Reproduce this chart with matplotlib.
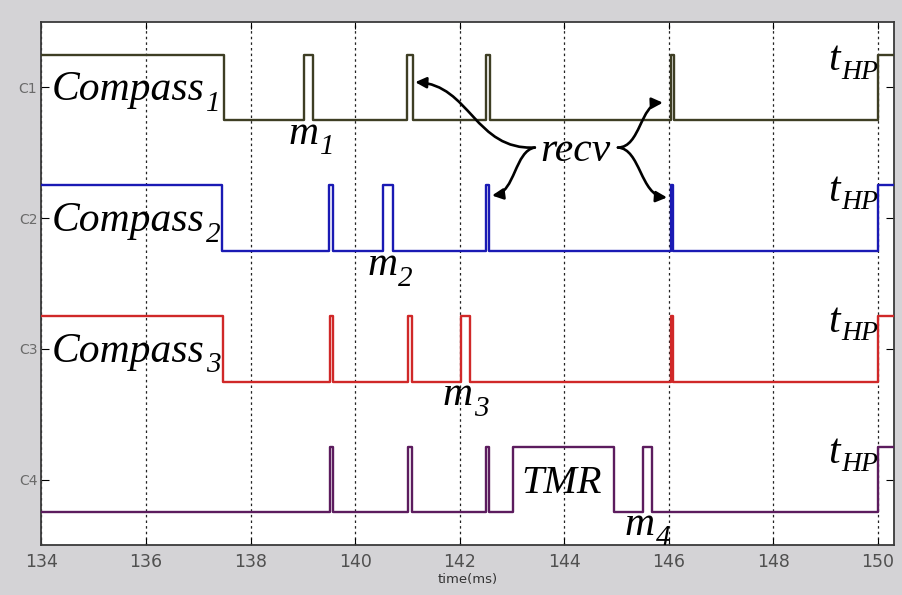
import numpy as np
import matplotlib
matplotlib.use('Agg')
import matplotlib.pyplot as plt
from matplotlib.path import Path
from matplotlib.patches import FancyArrowPatch

# channel names (top to bottom) and the time (ms) of every edge
channels = ['C1', 'C2', 'C3', 'C4']
c1_edges = [137.5, 139.03, 139.2, 141.0, 141.1, 142.5, 142.58, 146.04, 146.1, 150.0]
c2_edges = [137.45, 139.51, 139.58, 140.53, 140.73, 142.5, 142.57, 146.04, 146.08, 150.0]
c3_edges = [137.47, 139.52, 139.57, 141.01, 141.09, 142.02, 142.19, 146.04, 146.09, 150.0]
c4_edges = [139.52, 139.58, 141.01, 141.09, 142.5, 142.57, 143.02, 144.95, 145.5, 145.69, 150.0]
start_high = [True, True, True, False]
colors = ['#3e3e24', '#1a1ab4', '#d02828', '#5c1c5e']
t_start, t_end = 134, 150.31
xticks = np.arange(134, 151, 2)


def square_wave(edges, high, base):
    t = [t_start] + edges + [t_end]
    lev = []
    h = high
    for i in range(len(t) - 1):
        lev.append(base + (0.25 if h else -0.25))
        h = not h
    lev.append(lev[-1])
    return t, lev


fig = plt.figure(figsize=(9.02, 5.95), dpi=100, facecolor='#d4d3d6')
ax = fig.add_axes([0.046, 0.084, 0.945, 0.879])

all_edges = [c1_edges, c2_edges, c3_edges, c4_edges]
for k, (edges, hi, col) in enumerate(zip(all_edges, start_high, colors)):
    base = 4 - k
    t, lev = square_wave(edges, hi, base)
    ax.step(t, lev, where='post', color=col, lw=1.7, zorder=3)

ax.set_xlim(t_start, t_end)
ax.set_ylim(0.5, 4.5)
ax.set_xticks(xticks)
ax.set_yticks([4, 3, 2, 1])
ax.set_yticklabels(channels)
ax.tick_params(axis='x', direction='in', labelsize=12.5, labelcolor='#505050',
               top=True, length=5, pad=6)
ax.tick_params(axis='y', direction='in', labelsize=10, labelcolor='#6a6a6a',
               right=True, length=6, pad=3)
ax.grid(axis='x', color='#222222', linestyle=(0, (2, 2.5)), lw=0.9)
ax.set_xlabel('time(ms)', fontsize=9.5, color='#333333', labelpad=1)
for s in ax.spines.values():
    s.set_color('#3a3a3a')
    s.set_linewidth(1.3)

serif = dict(family='Liberation Serif', style='italic', color='black')


def label(x, y, main, sub=None, size=30, subsize=21, dy=-1.0):
    txt = ax.text(x, y, main, fontsize=size, va='baseline', ha='left',
                  zorder=5, **serif)
    if sub:
        ax.annotate(sub, xy=(1, 0), xycoords=txt, xytext=(1, dy),
                    textcoords='offset points', fontsize=subsize,
                    va='baseline', ha='left', zorder=5, **serif)


for k in range(3):
    label(134.2, 3.9 - k, 'Compass', str(k + 1))
for k in range(4):
    label(149.06, 4.13 - k, 't', 'HP', subsize=20, dy=0.5)
label(138.72, 3.57, 'm', '1')
label(140.23, 2.563, 'm', '2')
label(141.68, 1.57, 'm', '3')
label(145.15, 0.578, 'm', '4')
label(143.55, 3.44, 'recv')
label(143.19, 0.898, 'TMR', size=29)

# curly "brace" arrows from recv to the received pulses
arrows = [
    [(143.44, 3.54), (142.29, 3.517), (142.2, 4.02), (141.15, 4.04)],
    [(143.44, 3.54), (143.06, 3.517), (143.06, 3.196), (142.62, 3.173)],
    [(145.03, 3.54), (145.46, 3.54), (145.46, 3.876), (145.89, 3.883)],
    [(145.03, 3.54), (145.46, 3.532), (145.46, 3.173), (145.97, 3.158)],
]
for pts in arrows:
    p = Path(pts, [Path.MOVETO, Path.CURVE4, Path.CURVE4, Path.CURVE4])
    arr = FancyArrowPatch(path=p, arrowstyle='-|>,head_length=6.5,head_width=3.2',
                          color='black', lw=1.9, transform=ax.transData, zorder=6)
    ax.add_patch(arr)

fig.savefig('out.png', dpi=100, facecolor=fig.get_facecolor())
